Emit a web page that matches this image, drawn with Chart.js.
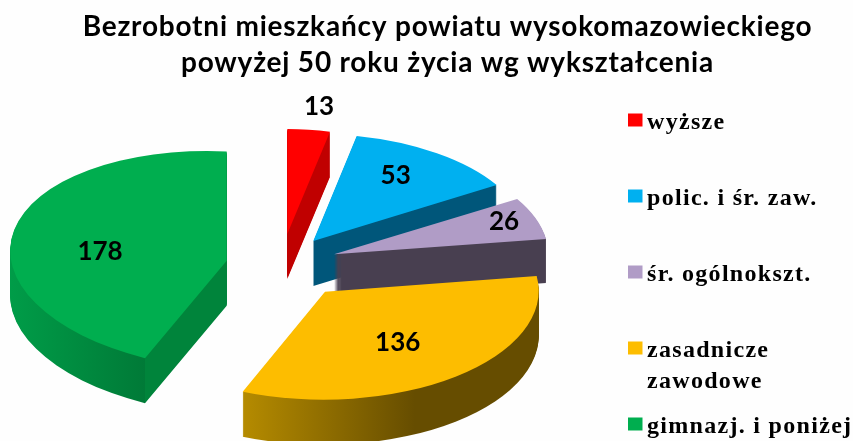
<!DOCTYPE html>
<html lang="pl">
<head>
<meta charset="utf-8">
<title>Bezrobotni</title>
<style>
html,body{margin:0;padding:0;background:#fefefe;overflow:hidden}
canvas{display:block;filter:blur(0.55px)}
</style>
<script src="https://cdn.jsdelivr.net/npm/chart.js@4"></script>
</head>
<body>
<canvas id="c" width="853" height="441"></canvas>
<script>
const categories = ['wyższe', 'polic. i śr. zaw.', 'śr. ogólnokszt.', ['zasadnicze', 'zawodowe'], 'gimnazj. i poniżej'];
const values = [13, 53, 26, 136, 178];
const titleLines = ['Bezrobotni mieszkańcy powiatu wysokomazowieckiego', 'powyżej 50 roku życia wg wykształcenia'];
const faceColors = ['#ff0000', '#00b0f0', '#b09cc6', '#fdbd00', '#00ae4f'];

// Projection of each exploded wedge: where its apex sits, how the unit circle is flattened
const projections = [
  {apex:[287.3,234.0], ex:[213.7,2.9], ey:[0,105.0],    depth:45},
  {apex:[313.3,241.0], ex:[214.7,0],   ey:[-0.5,107.1], depth:45},
  {apex:[334.0,254.3], ex:[214.2,0.3], ey:[-0.9,106.4], depth:44},
  {apex:[325.0,291.7], ex:[213.7,0.1], ey:[-1.8,108.0], depth:45},
  {apex:[226.7,260.7], ex:[216.5,10],  ey:[0,109.3],    depth:45}
];
// Side-wall shading, as horizontal colour stops in page pixels
const sideStops = [
  [[0,'#c00000'],[853,'#c00000']],
  [[0,'#00567a'],[853,'#00567a']],
  [[0,'#483f50'],[853,'#483f50']],
  [[243,'#b58b00'],[415,'#664d00'],[853,'#664d00']],
  [[11,'#009c48'],[145,'#007a37'],[145.5,'#00843b'],[853,'#00843b']]
];
const labelOffsets = [[31.7,-127.3],[82.4,-65],[170,-32.3],[72.7,51.3],[-126.7,-9]];

const legendBox = {markerX:628, markerW:14.5, markerH:13, textX:647, firstRow:120, rowPitch:76, lineHeight:31,
  font:'bold 24px "Liberation Serif"', spacing:'1.3px'};

const wedge3d = {
  id:'wedge3d',
  beforeDraw(chart){
    const c = chart.ctx; c.save(); c.fillStyle = '#fefefe'; c.fillRect(0,0,chart.width,chart.height); c.restore();
    if ('letterSpacing' in c) c.letterSpacing = '0.8px';
  },
  afterLayout(chart){
    const t = chart.titleBlock; t.left += 21; t.right += 21;
  },
  beforeDatasetsDraw(chart){
    const ctx = chart.ctx, meta = chart.getDatasetMeta(0);
    if ('letterSpacing' in ctx) ctx.letterSpacing = '0px';
    const off = document.createElement('canvas');
    off.width = chart.width; off.height = chart.height;
    const oc = off.getContext('2d');
    meta.data.forEach((arc, i) => {
      const p = projections[i], r = arc.outerRadius;
      const a = p.ex[0]/r, b = p.ex[1]/r, c = p.ey[0]/r, d = p.ey[1]/r;
      const e = p.apex[0]-(a*arc.x+c*arc.y), f = p.apex[1]-(b*arc.x+d*arc.y);
      // side walls: the library's arc stamped downwards, then shaded across the page
      oc.setTransform(1,0,0,1,0,0);
      oc.globalCompositeOperation = 'source-over';
      oc.clearRect(0,0,off.width,off.height);
      for (let k = p.depth; k >= 1; k--) {
        oc.setTransform(a,b,c,d,e,f+k);
        arc.draw(oc);
      }
      oc.setTransform(1,0,0,1,0,0);
      oc.globalCompositeOperation = 'source-in';
      const g = oc.createLinearGradient(0,0,853,0);
      sideStops[i].forEach(s => g.addColorStop(s[0]/853, s[1]));
      oc.fillStyle = g; oc.fillRect(0,0,off.width,off.height);
      ctx.drawImage(off,0,0);
      // top face
      ctx.save();
      ctx.transform(a,b,c,d,e,f);
      arc.draw(ctx);
      ctx.restore();
    });
    return false;
  },
  afterDraw(chart){
    const ctx = chart.ctx;
    ctx.save();
    ctx.fillStyle = '#000';
    ctx.textAlign = 'center'; ctx.textBaseline = 'middle';
    ctx.font = 'bold 26px Lato';
    if ('letterSpacing' in ctx) ctx.letterSpacing = '0px';
    values.forEach((v,i) => {
      ctx.fillText(String(v), projections[i].apex[0]+labelOffsets[i][0], projections[i].apex[1]+labelOffsets[i][1]);
    });
    // legend
    ctx.textAlign = 'left'; ctx.textBaseline = 'alphabetic';
    ctx.font = legendBox.font;
    if ('letterSpacing' in ctx) ctx.letterSpacing = legendBox.spacing;
    categories.forEach((cat,i) => {
      const y = legendBox.firstRow + i*legendBox.rowPitch;
      ctx.fillStyle = faceColors[i];
      ctx.fillRect(legendBox.markerX, y-legendBox.markerH/2, legendBox.markerW, legendBox.markerH);
      ctx.fillStyle = '#000';
      [].concat(cat).forEach((line,j) => ctx.fillText(line, legendBox.textX, y+9+j*legendBox.lineHeight));
    });
    ctx.restore();
  }
};

new Chart(document.getElementById('c'), {
  type:'pie',
  data:{
    labels:categories,
    datasets:[{data:values, backgroundColor:faceColors, borderWidth:0, hoverOffset:0}]
  },
  options:{
    responsive:false,
    animation:false,
    events:[],
    layout:{padding:0},
    plugins:{
      legend:{display:false},
      tooltip:{enabled:false},
      title:{
        display:true,
        text:titleLines,
        color:'#000',
        font:{family:'Lato', size:28, weight:'bold', lineHeight:1.29},
        padding:{top:9,bottom:4}
      }
    }
  },
  plugins:[wedge3d]
});
</script>
</body>
</html>
